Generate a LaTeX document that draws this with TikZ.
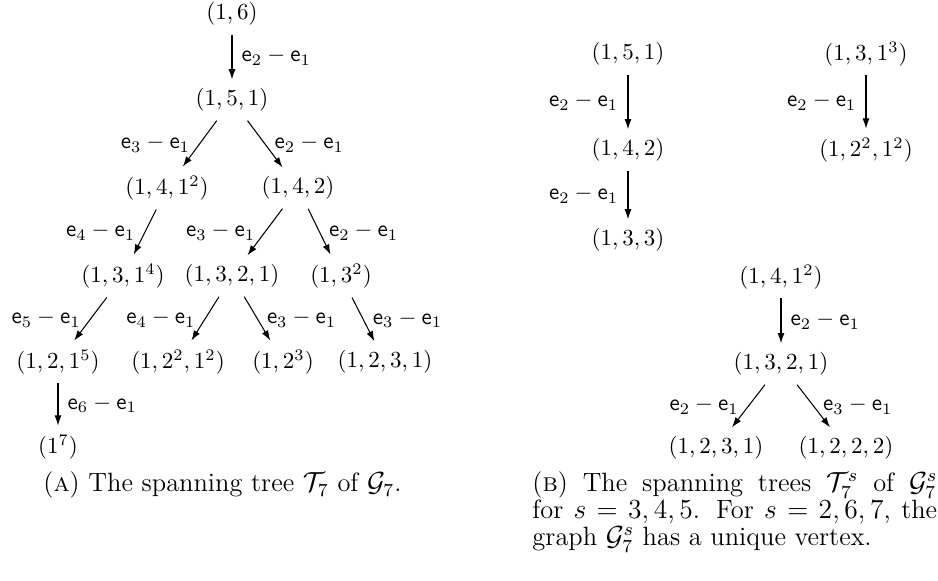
\documentclass[tikz,border=0pt]{standalone}
\usepackage{amsmath,amssymb}
\usetikzlibrary{arrows.meta}
\newcommand{\ediff}[2]{\mathsf{e}_{#1}-\mathsf{e}_{#2}}

\begin{document}
\begin{tikzpicture}[x=0.4348pt, y=-0.4348pt, >={Latex[length=4.4pt,width=3pt]},
  vtx/.style={font=\fontsize{9.8}{11.8}\selectfont, inner sep=3.8pt},
  lab/.style={font=\fontsize{9.8}{11.8}\selectfont, inner sep=4pt},
  capt/.style={font=\fontsize{11.5}{11.8}\selectfont, inner sep=0pt}]
\useasboundingbox (0,0) rectangle (938,581);
% (A) the tree T_7
\node[vtx] (a16) at (232,14) {$(1,6)$};
\node[vtx] (a151) at (232,100) {$(1,5,1)$};
\node[vtx] (a1412) at (167,188) {$(1,4,1^2)$};
\node[vtx] (a142) at (298,188) {$(1,4,2)$};
\node[vtx] (a1314) at (123,276) {$(1,3,1^4)$};
\node[vtx] (a1321) at (232,276) {$(1,3,2,1)$};
\node[vtx] (a132) at (341,276) {$(1,3^2)$};
\node[vtx] (a1215) at (58,362) {$(1,2,1^5)$};
\node[vtx] (a12212) at (178,362) {$(1,2^2,1^2)$};
\node[vtx] (a123) at (283,362) {$(1,2^3)$};
\node[vtx] (a1231) at (385,362) {$(1,2,3,1)$};
\node[vtx] (a17) at (58,447) {$(1^7)$};
\foreach \s/\t/\k/\p in {a16/a151/2/right, a151/a1412/3/left, a151/a142/2/right,
    a1412/a1314/4/left, a142/a1321/3/left, a142/a132/2/right,
    a1314/a1215/5/left, a1321/a12212/4/left, a1321/a123/3/right,
    a132/a1231/3/right, a1215/a17/6/right}
  \draw[->, line width=0.45pt] (\s) -- node[lab,\p] {$\ediff{\k}{1}$} (\t);
% (B) the trees T_7^s
\node[vtx] (b151) at (628,54) {$(1,5,1)$};
\node[vtx] (b142) at (628,150) {$(1,4,2)$};
\node[vtx] (b133) at (628,240) {$(1,3,3)$};
\node[vtx] (c1313) at (866,54) {$(1,3,1^3)$};
\node[vtx] (c12212) at (866,150) {$(1,2^2,1^2)$};
\node[vtx] (d1412) at (781,277) {$(1,4,1^2)$};
\node[vtx] (d1321) at (781,364) {$(1,3,2,1)$};
\node[vtx] (d1231) at (716,448) {$(1,2,3,1)$};
\node[vtx] (d1222) at (846,448) {$(1,2,2,2)$};
\foreach \s/\t/\k/\p in {b151/b142/2/left, b142/b133/2/left, c1313/c12212/2/left,
    d1412/d1321/2/right, d1321/d1231/2/left, d1321/d1222/3/right}
  \draw[->, line width=0.45pt] (\s) -- node[lab,\p] {$\ediff{\k}{1}$} (\t);
% captions
\node[capt, anchor=base west] (capa) at (43,492)
  {(\textsc{a}) The spanning tree $\mathcal{T}_7$ of $\mathcal{G}_7$.};
\node[capt, anchor=north west, text width=176pt, align=justify] (capb) at (532,471)
  {\fontsize{11.5}{11.8}\selectfont
   (\textsc{b}) The spanning trees $\mathcal{T}_7^s$ of $\mathcal{G}_7^s$\linebreak
   for $s=3,4,5$. For $s=2,6,7$, the\linebreak graph $\mathcal{G}_7^s$ has a unique vertex.\par};
\end{tikzpicture}
\end{document}
